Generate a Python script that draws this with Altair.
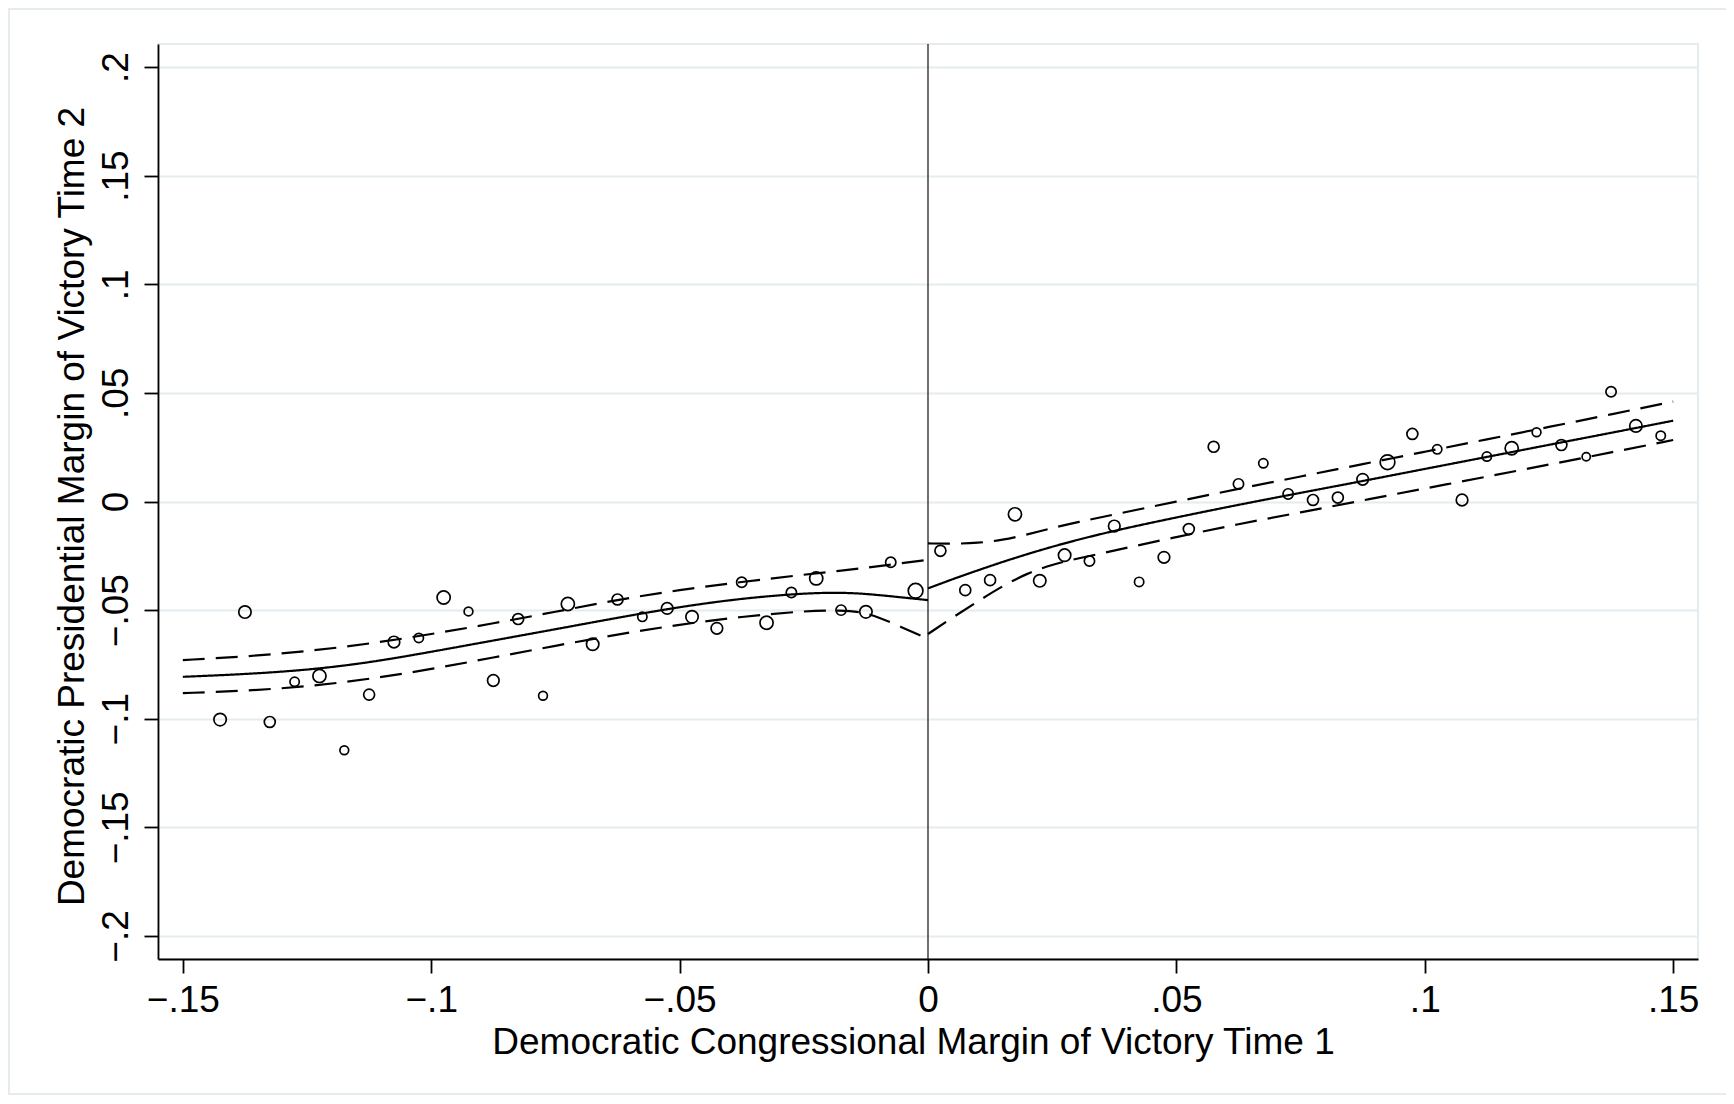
import altair as alt
import pandas as pd

# ---- binned scatter (bin midpoints, mean outcome, relative bin weight) ----
bin_x = [-0.1425, -0.1375, -0.1325, -0.1275, -0.1225, -0.1175, -0.1125, -0.1075,
         -0.1025, -0.0975, -0.0925, -0.0875, -0.0825, -0.0775, -0.0725, -0.0675,
         -0.0625, -0.0575, -0.0525, -0.0475, -0.0425, -0.0375, -0.0325, -0.0275,
         -0.0225, -0.0175, -0.0125, -0.0075, -0.0025,
         0.0025, 0.0075, 0.0125, 0.0175, 0.0225, 0.0275, 0.0325, 0.0375, 0.0425,
         0.0475, 0.0525, 0.0575, 0.0625, 0.0675, 0.0725, 0.0775, 0.0825, 0.0875,
         0.0925, 0.0975, 0.1025, 0.1075, 0.1125, 0.1175, 0.1225, 0.1275, 0.1325,
         0.1375, 0.1425, 0.1475]
bin_y = [-0.1004, -0.0509, -0.1015, -0.0830, -0.0803, -0.1145, -0.0889, -0.0647,
         -0.0628, -0.0442, -0.0506, -0.0824, -0.0541, -0.0894, -0.0472, -0.0657,
         -0.0451, -0.0531, -0.0492, -0.0531, -0.0584, -0.0372, -0.0558, -0.0419,
         -0.0354, -0.0500, -0.0508, -0.0280, -0.0411,
         -0.0227, -0.0408, -0.0362, -0.0059, -0.0365, -0.0247, -0.0274, -0.0113,
         -0.0370, -0.0257, -0.0127, 0.0252, 0.0081, 0.0176, 0.0035, 0.0007,
         0.0018, 0.0102, 0.0181, 0.0311, 0.0240, 0.0007, 0.0207, 0.0245,
         0.0319, 0.0260, 0.0206, 0.0505, 0.0348, 0.0303]
bin_w = [32, 32, 25, 18, 36, 16, 25, 28, 18, 36, 16, 28, 25, 16, 36, 32,
         25, 18, 28, 32, 28, 22, 36, 22, 36, 22, 32, 22, 45,
         25, 25, 25, 36, 32, 32, 22, 28, 18, 28, 25, 25, 22, 18, 22, 25,
         25, 28, 45, 25, 18, 28, 18, 36, 16, 25, 14, 22, 32, 18]

# ---- fitted polynomial and confidence bands, left of cutoff ----
left_x = [-0.15, -0.1375, -0.125, -0.1125, -0.1, -0.0875, -0.075, -0.0625,
          -0.05, -0.0375, -0.025, -0.0175, -0.0125, -0.0075, 0.0]
left_fit = [-0.0807, -0.0795, -0.0776, -0.0742, -0.0692, -0.0640, -0.0588, -0.0535,
            -0.0485, -0.0446, -0.0422, -0.0419, -0.0425, -0.0436, -0.0454]
left_hi = [-0.0730, -0.0714, -0.0690, -0.0655, -0.0611, -0.0561, -0.0508, -0.0452,
           -0.0407, -0.0370, -0.0337, -0.0318, -0.0305, -0.0291, -0.0268]
left_lo = [-0.0882, -0.0872, -0.0852, -0.0818, -0.0772, -0.0718, -0.0664, -0.0612,
           -0.0566, -0.0530, -0.0504, -0.0500, -0.0510, -0.0556, -0.0632]

# ---- right of cutoff ----
right_x = [0.0, 0.005, 0.01, 0.015, 0.02, 0.025, 0.03, 0.0375, 0.05, 0.0625, 0.075,
           0.0875, 0.1, 0.1125, 0.125, 0.1375, 0.15]
right_fit = [-0.0400, -0.0357, -0.0317, -0.0278, -0.0242, -0.0208, -0.0177, -0.0134,
             -0.0073, -0.0015, 0.0040, 0.0094, 0.0150, 0.0205, 0.0261, 0.0316, 0.0372]
right_hi = [-0.0193, -0.0195, -0.0191, -0.0178, -0.0152, -0.0122, -0.0095, -0.0060,
            0.0000, 0.0058, 0.0115, 0.0172, 0.0229, 0.0286, 0.0343, 0.0401, 0.0460]
right_lo = [-0.0610, -0.0533, -0.0460, -0.0389, -0.0330, -0.0290, -0.0263, -0.0226,
            -0.0163, -0.0104, -0.0050, 0.0005, 0.0060, 0.0114, 0.0170, 0.0226, 0.0283]

cutoff = [0.0]
x_ticks = [-0.15, -0.1, -0.05, 0.0, 0.05, 0.1, 0.15]
y_ticks = [-0.2, -0.15, -0.1, -0.05, 0.0, 0.05, 0.1, 0.15, 0.2]

FONT = "Liberation Sans"
GRID = "#e4ecef"

pts = pd.DataFrame({"x": bin_x, "y": bin_y, "w": bin_w})

rows = []
for name, xs, ys, kind in [
    ("left_fit", left_x, left_fit, "fit"), ("left_hi", left_x, left_hi, "ci"),
    ("left_lo", left_x, left_lo, "ci"), ("right_fit", right_x, right_fit, "fit"),
    ("right_hi", right_x, right_hi, "ci"), ("right_lo", right_x, right_lo, "ci")]:
    for i, (a, b) in enumerate(zip(xs, ys)):
        rows.append({"x": a, "y": b, "series": name, "kind": kind, "order": i})
lines = pd.DataFrame(rows)

label_expr = "replace(replace(format(datum.value, '.2~f'), '0.', '.'), '-', '\u2212')"

xscale = alt.Scale(domain=[-0.155, 0.155], nice=False, zero=False)
yscale = alt.Scale(domain=[-0.2106, 0.2106], nice=False, zero=False)

xaxis = alt.Axis(values=x_ticks, labelExpr=label_expr, tickSize=14, tickWidth=1.8,
                 tickColor="black", domainColor="black", domainWidth=1.8,
                 labelFont=FONT, labelFontSize=37, labelColor="black",
                 labelPadding=38, labelBaseline="alphabetic", labelFlush=False,
                 labelOverlap=False, grid=False,
                 title="Democratic Congressional Margin of Victory Time 1",
                 titleFont=FONT, titleFontSize=37, titleFontWeight="normal",
                 titleColor="black", titleX=755, titleY=94,
                 titleBaseline="alphabetic", titleAlign="center")
yaxis = alt.Axis(values=y_ticks, labelExpr=label_expr, tickSize=14, tickWidth=1.8,
                 tickColor="black", domainColor="black", domainWidth=1.8,
                 labelFont=FONT, labelFontSize=37, labelColor="black",
                 labelAngle=270, labelAlign="center", labelBaseline="alphabetic",
                 labelPadding=17, labelFlush=False, labelOverlap=False,
                 grid=True, gridColor=GRID, gridWidth=2,
                 title="Democratic Presidential Margin of Victory Time 2",
                 titleFont=FONT, titleFontSize=37, titleFontWeight="normal",
                 titleColor="black", titleX=-75, titleY=462, titleAngle=270,
                 titleBaseline="alphabetic", titleAlign="center")

base_x = alt.X("x:Q", scale=xscale, axis=xaxis)
base_y = alt.Y("y:Q", scale=yscale, axis=yaxis)

line_layer = alt.Chart(lines).mark_line(color="black", strokeWidth=2.2,
                                        interpolate="basis").encode(
    x=base_x, y=base_y, detail="series:N", order="order:Q",
    strokeDash=alt.StrokeDash("kind:N", scale=alt.Scale(domain=["fit", "ci"],
                              range=[[1, 0], [22, 11]]), legend=None))

point_layer = alt.Chart(pts).mark_point(shape="circle", filled=False, color="black",
                                        strokeWidth=1.7, opacity=1).encode(
    x=alt.X("x:Q", scale=xscale, axis=xaxis), y=alt.Y("y:Q", scale=yscale, axis=yaxis),
    size=alt.Size("w:Q", scale=alt.Scale(type="linear", domain=[0, 50], range=[0, 240]),
                  legend=None))

rule_layer = alt.Chart(pd.DataFrame({"c": cutoff})).mark_rule(
    color="#222222", strokeWidth=1.3).encode(x=alt.X("c:Q", scale=xscale))

frame = alt.Chart(pd.DataFrame({"a": [0]})).mark_rect(
    fillOpacity=0, stroke=GRID, strokeWidth=2).encode(
    x=alt.value(-149), x2=alt.value(1620), y=alt.value(-35), y2=alt.value(1050))

chart = alt.layer(frame, rule_layer, line_layer, point_layer).properties(
    width=1540, height=915,
    autosize=alt.AutoSizeParams(type="none"),
    padding={"left": 150, "top": 36, "right": 28, "bottom": 137},
    background="white",
).configure_view(stroke=GRID, strokeWidth=2)

chart.save("out.html", embed_options={"renderer": "svg", "actions": False})
